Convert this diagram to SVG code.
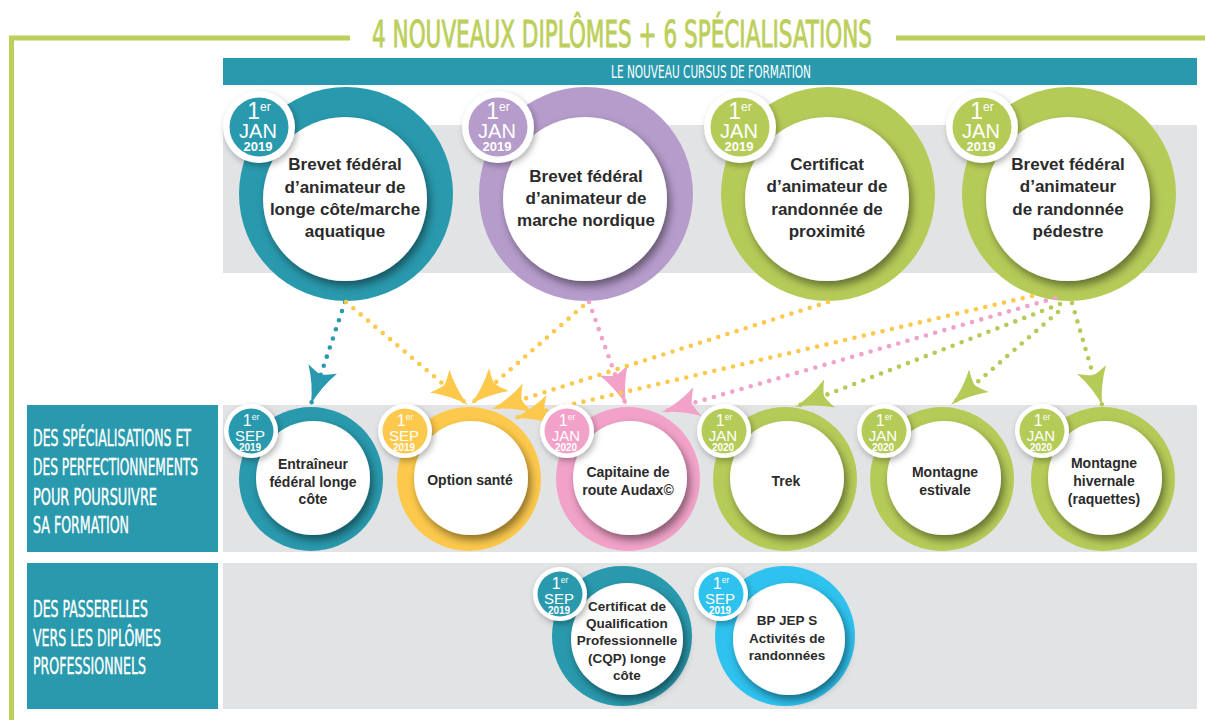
<svg xmlns="http://www.w3.org/2000/svg" width="1205" height="720" viewBox="0 0 1205 720">
<defs>
<style>
.disp{font-family:"DejaVu Sans Condensed","DejaVu Sans",sans-serif;font-stretch:condensed}
.ct{font-family:"Liberation Sans",Arial,sans-serif;font-weight:bold;fill:#2b2b2b;text-anchor:middle}
.big{font-size:17px}
.sm{font-size:14px}
.xs{font-size:13.5px}
.bd{font-family:"Liberation Sans",Arial,sans-serif;fill:#fff;text-anchor:middle}
.dl{fill:none;stroke-linecap:round;stroke-dasharray:0 9.6;stroke-width:4.6}
.lab{fill:#fff;font-size:23px;stroke:#fff;stroke-width:0.4}
</style>
<filter id="sh" x="-30%" y="-30%" width="160%" height="160%">
<feDropShadow dx="3" dy="5" stdDeviation="4" flood-color="#000" flood-opacity="0.45"/>
</filter>
<filter id="bsh" x="-40%" y="-40%" width="180%" height="180%">
<feDropShadow dx="2" dy="3" stdDeviation="3" flood-color="#000" flood-opacity="0.3"/>
</filter>
<marker id="ah-teal" viewBox="-39 -17 41 34" refX="0" refY="0" markerWidth="41" markerHeight="34" markerUnits="userSpaceOnUse" orient="auto">
<path d="M0,0 Q-19,-4 -37,-15 Q-32,-5 -31,0 Q-32,5 -37,15 Q-19,4 0,0Z" fill="#2999ad"/>
</marker>
<marker id="ah-yel" viewBox="-39 -17 41 34" refX="0" refY="0" markerWidth="41" markerHeight="34" markerUnits="userSpaceOnUse" orient="auto">
<path d="M0,0 Q-19,-4 -37,-15 Q-32,-5 -31,0 Q-32,5 -37,15 Q-19,4 0,0Z" fill="#fdc94c"/>
</marker>
<marker id="ah-pink" viewBox="-39 -17 41 34" refX="0" refY="0" markerWidth="41" markerHeight="34" markerUnits="userSpaceOnUse" orient="auto">
<path d="M0,0 Q-19,-4 -37,-15 Q-32,-5 -31,0 Q-32,5 -37,15 Q-19,4 0,0Z" fill="#f2a2c8"/>
</marker>
<marker id="ah-green" viewBox="-39 -17 41 34" refX="0" refY="0" markerWidth="41" markerHeight="34" markerUnits="userSpaceOnUse" orient="auto">
<path d="M0,0 Q-19,-4 -37,-15 Q-32,-5 -31,0 Q-32,5 -37,15 Q-19,4 0,0Z" fill="#b5cb58"/>
</marker>
</defs>

<rect width="1205" height="720" fill="#fff"/>

<g id="frame">
<path d="M9,38 H350 M896,38 H1205 M11.5,38 V720" fill="none" stroke="#bccf5a" stroke-width="5"/>
<text class="disp" x="622" y="47" font-size="37" fill="#bccf5a" stroke="#bccf5a" stroke-width="0.9" text-anchor="middle" textLength="500" lengthAdjust="spacingAndGlyphs">4 NOUVEAUX DIPLÔMES + 6 SPÉCIALISATIONS</text>
<rect x="223" y="58" width="974" height="27" fill="#2999ad"/>
<text class="disp" x="711" y="78" font-size="17" fill="#fff" text-anchor="middle" textLength="200" lengthAdjust="spacingAndGlyphs">LE NOUVEAU CURSUS DE FORMATION</text>
<rect x="223" y="125" width="974" height="148" fill="#e2e3e5"/>
<rect x="27" y="405" width="191" height="147" fill="#2999ad"/>
<rect x="223" y="405" width="974" height="147" fill="#e2e3e5"/>
<rect x="27" y="563" width="191" height="146" fill="#2999ad"/>
<rect x="223" y="563" width="974" height="146" fill="#e2e3e5"/>
</g>

<g id="label-specialisations" class="disp lab">
<text x="33" y="446" textLength="158" lengthAdjust="spacingAndGlyphs">DES SPÉCIALISATIONS ET</text>
<text x="33" y="475" textLength="165" lengthAdjust="spacingAndGlyphs">DES PERFECTIONNEMENTS</text>
<text x="33" y="505" textLength="124" lengthAdjust="spacingAndGlyphs">POUR POURSUIVRE</text>
<text x="33" y="533" textLength="96" lengthAdjust="spacingAndGlyphs">SA FORMATION</text>
</g>
<g id="label-passerelles" class="disp lab">
<text x="33" y="617" textLength="115" lengthAdjust="spacingAndGlyphs">DES PASSERELLES</text>
<text x="33" y="646" textLength="128" lengthAdjust="spacingAndGlyphs">VERS LES DIPLÔMES</text>
<text x="33" y="674" textLength="113" lengthAdjust="spacingAndGlyphs">PROFESSIONNELS</text>
</g>

<!-- top row -->
<g id="bf-longe-cote">
<circle cx="346" cy="194" r="107" fill="#2999ad"/>
<circle cx="345" cy="199" r="82" fill="#fff" filter="url(#sh)"/>
<text class="ct big" x="345" y="170">Brevet fédéral</text>
<text class="ct big" x="345" y="193">d’animateur de</text>
<text class="ct big" x="345" y="215">longe côte/marche</text>
<text class="ct big" x="345" y="237">aquatique</text>
<circle cx="259" cy="127" r="36" fill="#fff" filter="url(#bsh)"/>
<circle cx="259" cy="127" r="29.5" fill="#2999ad"/>
<text class="bd" x="259" y="119"><tspan font-size="23">1</tspan><tspan font-size="12" dy="-8">er</tspan></text>
<text class="bd" x="258" y="138" font-size="20">JAN</text>
<text class="bd" x="258" y="151" font-size="13" font-weight="bold">2019</text>
</g>

<g id="bf-marche-nordique">
<circle cx="586" cy="194" r="107" fill="#b59ccb"/>
<circle cx="585" cy="199" r="82" fill="#fff" filter="url(#sh)"/>
<text class="ct big" x="586" y="182">Brevet fédéral</text>
<text class="ct big" x="586" y="204">d’animateur de</text>
<text class="ct big" x="586" y="226">marche nordique</text>
<circle cx="498" cy="127" r="36" fill="#fff" filter="url(#bsh)"/>
<circle cx="498" cy="127" r="29.5" fill="#b59ccb"/>
<text class="bd" x="498" y="119"><tspan font-size="23">1</tspan><tspan font-size="12" dy="-8">er</tspan></text>
<text class="bd" x="497" y="138" font-size="20">JAN</text>
<text class="bd" x="497" y="151" font-size="13" font-weight="bold">2019</text>
</g>

<g id="ca-randonnee-proximite">
<circle cx="828" cy="194" r="107" fill="#b5cb58"/>
<circle cx="827" cy="199" r="82" fill="#fff" filter="url(#sh)"/>
<text class="ct big" x="827" y="170">Certificat</text>
<text class="ct big" x="827" y="192">d’animateur de</text>
<text class="ct big" x="827" y="215">randonnée de</text>
<text class="ct big" x="827" y="237">proximité</text>
<circle cx="740" cy="127" r="36" fill="#fff" filter="url(#bsh)"/>
<circle cx="740" cy="127" r="29.5" fill="#b5cb58"/>
<text class="bd" x="740" y="119"><tspan font-size="23">1</tspan><tspan font-size="12" dy="-8">er</tspan></text>
<text class="bd" x="739" y="138" font-size="20">JAN</text>
<text class="bd" x="739" y="151" font-size="13" font-weight="bold">2019</text>
</g>

<g id="bf-randonnee-pedestre">
<circle cx="1069" cy="194" r="107" fill="#b5cb58"/>
<circle cx="1068" cy="199" r="82" fill="#fff" filter="url(#sh)"/>
<text class="ct big" x="1068" y="170">Brevet fédéral</text>
<text class="ct big" x="1068" y="192">d’animateur</text>
<text class="ct big" x="1068" y="215">de randonnée</text>
<text class="ct big" x="1068" y="237">pédestre</text>
<circle cx="982" cy="127" r="36" fill="#fff" filter="url(#bsh)"/>
<circle cx="982" cy="127" r="29.5" fill="#b5cb58"/>
<text class="bd" x="982" y="119"><tspan font-size="23">1</tspan><tspan font-size="12" dy="-8">er</tspan></text>
<text class="bd" x="981" y="138" font-size="20">JAN</text>
<text class="bd" x="981" y="151" font-size="13" font-weight="bold">2019</text>
</g>

<!-- connectors -->
<g id="connectors">
<path class="dl" d="M345,302 L311,404" stroke="#2999ad" marker-end="url(#ah-teal)"/>
<path class="dl" d="M346,302 L468,405" stroke="#fdc94c" stroke-width="3.8" marker-end="url(#ah-yel)"/>
<path class="dl" d="M583,306 L471,404" stroke="#fdc94c" marker-end="url(#ah-yel)"/>
<path class="dl" d="M589,302 L626,405" stroke="#f2a2c8" marker-end="url(#ah-pink)"/>
<path class="dl" d="M828,302 L492,409" stroke="#fdc94c" marker-end="url(#ah-yel)"/>
<path class="dl" d="M1032,296 L514,418" stroke="#fdc94c" marker-end="url(#ah-yel)"/>
<path class="dl" d="M1055,298 L662,412" stroke="#f2a2c8" marker-end="url(#ah-pink)"/>
<path class="dl" d="M1060,304 L795,407" stroke="#b5cb58" marker-end="url(#ah-green)"/>
<path class="dl" d="M1058,312 L951,405" stroke="#b5cb58" stroke-width="3.8" marker-end="url(#ah-green)"/>
<path class="dl" d="M1072,303 L1102,405" stroke="#b5cb58" marker-end="url(#ah-green)"/>
</g>

<!-- middle row -->
<g id="entraineur-longe-cote">
<circle cx="311" cy="479" r="72" fill="#2999ad"/>
<circle cx="313" cy="478" r="57" fill="#fff" filter="url(#sh)"/>
<text class="ct sm" x="313" y="469">Entraîneur</text>
<text class="ct sm" x="313" y="487">fédéral longe</text>
<text class="ct sm" x="313" y="504">côte</text>
<circle cx="251" cy="431" r="27" fill="#fff" filter="url(#bsh)"/>
<circle cx="251" cy="431" r="22.5" fill="#2999ad"/>
<text class="bd" x="251" y="426"><tspan font-size="16">1</tspan><tspan font-size="8.5" dy="-6">er</tspan></text>
<text class="bd" x="250" y="441" font-size="15">SEP</text>
<text class="bd" x="250" y="451" font-size="10" font-weight="bold">2019</text>
</g>

<g id="option-sante">
<circle cx="469" cy="479" r="72" fill="#fdc94c"/>
<circle cx="471" cy="478" r="57" fill="#fff" filter="url(#sh)"/>
<text class="ct sm" x="470" y="485">Option santé</text>
<circle cx="405" cy="431" r="27" fill="#fff" filter="url(#bsh)"/>
<circle cx="405" cy="431" r="22.5" fill="#fdc94c"/>
<text class="bd" x="405" y="426"><tspan font-size="16">1</tspan><tspan font-size="8.5" dy="-6">er</tspan></text>
<text class="bd" x="404" y="441" font-size="15">SEP</text>
<text class="bd" x="404" y="451" font-size="10" font-weight="bold">2019</text>
</g>

<g id="capitaine-audax">
<circle cx="628" cy="479" r="72" fill="#f2a2c8"/>
<circle cx="630" cy="478" r="57" fill="#fff" filter="url(#sh)"/>
<text class="ct sm" x="628" y="477">Capitaine de</text>
<text class="ct sm" x="628" y="495">route Audax©</text>
<circle cx="567" cy="431" r="27" fill="#fff" filter="url(#bsh)"/>
<circle cx="567" cy="431" r="22.5" fill="#f2a2c8"/>
<text class="bd" x="567" y="426"><tspan font-size="16">1</tspan><tspan font-size="8.5" dy="-6">er</tspan></text>
<text class="bd" x="566" y="441" font-size="15">JAN</text>
<text class="bd" x="566" y="451" font-size="10" font-weight="bold">2020</text>
</g>

<g id="trek">
<circle cx="785" cy="479" r="72" fill="#b5cb58"/>
<circle cx="787" cy="478" r="57" fill="#fff" filter="url(#sh)"/>
<text class="ct sm" x="786" y="486">Trek</text>
<circle cx="724" cy="431" r="27" fill="#fff" filter="url(#bsh)"/>
<circle cx="724" cy="431" r="22.5" fill="#b5cb58"/>
<text class="bd" x="724" y="426"><tspan font-size="16">1</tspan><tspan font-size="8.5" dy="-6">er</tspan></text>
<text class="bd" x="723" y="441" font-size="15">JAN</text>
<text class="bd" x="723" y="451" font-size="10" font-weight="bold">2020</text>
</g>

<g id="montagne-estivale">
<circle cx="942" cy="479" r="72" fill="#b5cb58"/>
<circle cx="944" cy="478" r="57" fill="#fff" filter="url(#sh)"/>
<text class="ct sm" x="945" y="477">Montagne</text>
<text class="ct sm" x="945" y="495">estivale</text>
<circle cx="884" cy="431" r="27" fill="#fff" filter="url(#bsh)"/>
<circle cx="884" cy="431" r="22.5" fill="#b5cb58"/>
<text class="bd" x="884" y="426"><tspan font-size="16">1</tspan><tspan font-size="8.5" dy="-6">er</tspan></text>
<text class="bd" x="883" y="441" font-size="15">JAN</text>
<text class="bd" x="883" y="451" font-size="10" font-weight="bold">2020</text>
</g>

<g id="montagne-hivernale">
<circle cx="1103" cy="479" r="72" fill="#b5cb58"/>
<circle cx="1105" cy="478" r="57" fill="#fff" filter="url(#sh)"/>
<text class="ct sm" x="1104" y="468">Montagne</text>
<text class="ct sm" x="1104" y="486">hivernale</text>
<text class="ct sm" x="1104" y="504">(raquettes)</text>
<circle cx="1042" cy="431" r="27" fill="#fff" filter="url(#bsh)"/>
<circle cx="1042" cy="431" r="22.5" fill="#b5cb58"/>
<text class="bd" x="1042" y="426"><tspan font-size="16">1</tspan><tspan font-size="8.5" dy="-6">er</tspan></text>
<text class="bd" x="1041" y="441" font-size="15">JAN</text>
<text class="bd" x="1041" y="451" font-size="10" font-weight="bold">2020</text>
</g>

<!-- bottom row -->
<g id="cqp-longe-cote">
<circle cx="622" cy="636" r="70" fill="#2999ad"/>
<circle cx="627" cy="639" r="56" fill="#fff" filter="url(#sh)"/>
<text class="ct xs" x="627" y="611">Certificat de</text>
<text class="ct xs" x="627" y="628">Qualification</text>
<text class="ct xs" x="627" y="645">Professionnelle</text>
<text class="ct xs" x="627" y="663">(CQP) longe</text>
<text class="ct xs" x="627" y="680">côte</text>
<circle cx="560" cy="594" r="27" fill="#fff" filter="url(#bsh)"/>
<circle cx="560" cy="594" r="22.5" fill="#2999ad"/>
<text class="bd" x="560" y="589"><tspan font-size="16">1</tspan><tspan font-size="8.5" dy="-6">er</tspan></text>
<text class="bd" x="559" y="604" font-size="15">SEP</text>
<text class="bd" x="559" y="614" font-size="10" font-weight="bold">2019</text>
</g>

<g id="bpjeps-randonnees">
<circle cx="785" cy="636" r="70" fill="#2ec2ee"/>
<circle cx="789" cy="639" r="56" fill="#fff" filter="url(#sh)"/>
<text class="ct xs" x="787" y="625">BP JEP S</text>
<text class="ct xs" x="787" y="643">Activités de</text>
<text class="ct xs" x="787" y="660">randonnées</text>
<circle cx="721" cy="594" r="27" fill="#fff" filter="url(#bsh)"/>
<circle cx="721" cy="594" r="22.5" fill="#2ec2ee"/>
<text class="bd" x="721" y="589"><tspan font-size="16">1</tspan><tspan font-size="8.5" dy="-6">er</tspan></text>
<text class="bd" x="720" y="604" font-size="15">SEP</text>
<text class="bd" x="720" y="614" font-size="10" font-weight="bold">2019</text>
</g>
</svg>
